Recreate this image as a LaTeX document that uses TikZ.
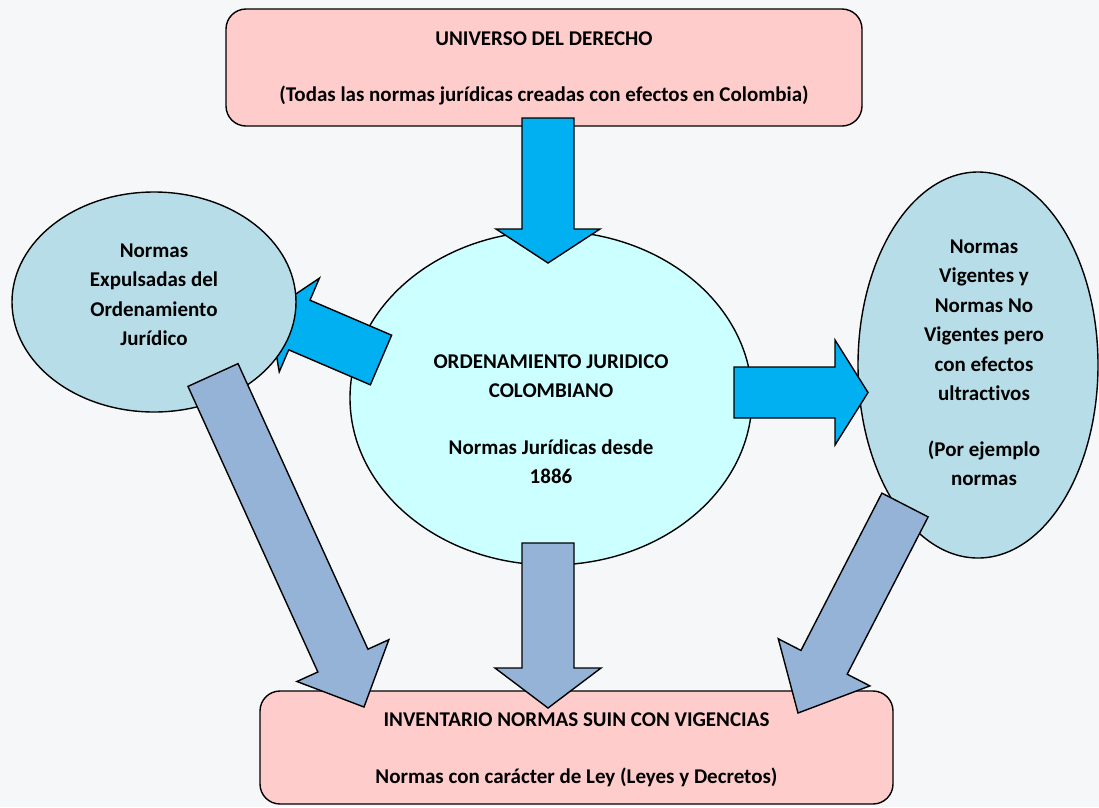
\documentclass[tikz,border=0pt]{standalone}
\usepackage{fontspec}
\setmainfont{Carlito}[Ligatures=NoCommon]
\usetikzlibrary{calc,shapes.geometric}
\definecolor{pinkbox}{RGB}{255,204,204}
\definecolor{cyanell}{RGB}{204,255,255}
\definecolor{blueell}{RGB}{183,222,232}
\definecolor{arrblue}{RGB}{0,176,240}
\definecolor{arrgray}{RGB}{149,179,215}
\definecolor{bgcol}{RGB}{246,247,249}
% #1 style, #2 start, #3 tip, #4 half shaft, #5 half head, #6 head length
\newcommand\myblockarrow[6]{%
  \path ($(#3)!#6!(#2)$) coordinate (hb);
  \draw[#1] ($(#2)!#4!90:(#3)$) -- ($(hb)!#4!-90:(#2)$) -- ($(hb)!#5!-90:(#2)$)
    -- (#3) -- ($(hb)!#5!90:(#2)$) -- ($(hb)!#4!90:(#2)$) -- ($(#2)!#4!-90:(#3)$) -- cycle;}
\begin{document}
\begin{tikzpicture}[x=1pt,y=-1pt,
  txt/.style={align=center,font=\fontsize{21}{29.5}\selectfont\bfseries,inner sep=0pt,text=black},
  box/.style={draw=black,line width=1.4pt,fill=pinkbox,rounded corners=20pt,inner sep=0pt},
  ell/.style={draw=black,line width=1.4pt,ellipse,inner sep=0pt},
  blarrow/.style={draw=black,line width=1.4pt,fill=arrblue,line join=miter},
  grarrow/.style={draw=black,line width=1.4pt,fill=arrgray,line join=miter}]
\useasboundingbox (0,0) rectangle (1099,807);
\fill[bgcol] (0,0) rectangle (1099,807);

% boxes
\node[box,minimum width=636pt,minimum height=117pt] (univ) at (544,67.5) {};
\node[txt] (univtxt) at (544,68) {UNIVERSO DEL DERECHO\\[26.5pt](Todas las normas jurídicas creadas con efectos en Colombia)};
\node[box,minimum width=633pt,minimum height=113pt] (inv) at (576.5,747.5) {};
\node[txt] (invtxt) at (576.5,749.5) {INVENTARIO NORMAS SUIN CON VIGENCIAS\\[27.5pt]Normas con carácter de Ley (Leyes y Decretos)};

% central ellipse
\node[ell,fill=cyanell,minimum width=402pt,minimum height=334pt] (ojc) at (551,398) {};
\node[txt] (ojctxt) at (551,419) {ORDENAMIENTO JURIDICO\\COLOMBIANO\\[27pt]Normas Jurídicas desde\\1886};

% left blue arrow (under left ellipse)
\coordinate (la-s) at (381,360);
\coordinate (la-t) at (269,312);
\myblockarrow{blarrow}{la-s}{la-t}{27pt}{51pt}{33pt}

% side ellipses
\node[ell,fill=blueell,minimum width=284pt,minimum height=220pt] (exp) at (154,302) {};
\node[txt] (exptxt) at (154,295) {Normas\\Expulsadas del\\Ordenamiento\\Jurídico};
\node[ell,fill=blueell,minimum width=240pt,minimum height=386pt] (vig) at (978,365) {};
\node[txt] (vigtxt) at (984,363) {Normas\\Vigentes y\\Normas No\\Vigentes pero\\con efectos\\ultractivos\\[26pt](Por ejemplo\\normas};

% top blue arrow
\coordinate (ta-s) at (548,118);
\coordinate (ta-t) at (548,263);
\myblockarrow{blarrow}{ta-s}{ta-t}{26pt}{52pt}{34pt}

% right blue arrow
\coordinate (ra-s) at (734,392.5);
\coordinate (ra-t) at (868,392.5);
\myblockarrow{blarrow}{ra-s}{ra-t}{25.5pt}{52.5pt}{33pt}

% gray arrows to inventory
\coordinate (ga1-s) at (213,375);
\coordinate (ga1-t) at (364,707);
\myblockarrow{grarrow}{ga1-s}{ga1-t}{27.5pt}{50.5pt}{51pt}
\coordinate (ga2-s) at (548,543);
\coordinate (ga2-t) at (548,708);
\myblockarrow{grarrow}{ga2-s}{ga2-t}{26pt}{53pt}{40pt}
\coordinate (ga3-s) at (905,505);
\coordinate (ga3-t) at (798,713);
\myblockarrow{grarrow}{ga3-s}{ga3-t}{26pt}{51.5pt}{57pt}
\end{tikzpicture}
\end{document}
